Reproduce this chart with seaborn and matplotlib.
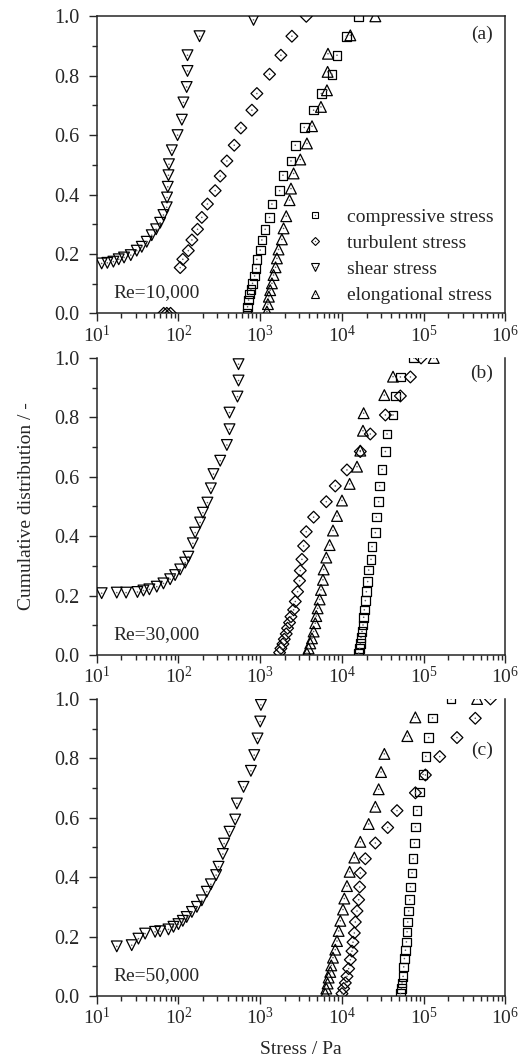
import matplotlib
matplotlib.use("Agg")
import matplotlib.pyplot as plt
import seaborn as sns
import pandas as pd
from matplotlib.lines import Line2D
from matplotlib.ticker import LogLocator, MultipleLocator, NullFormatter, FormatStrFormatter

# ---- data (stress in Pa, cumulative distribution) ----
# (a) Re=10,000
a_comp_x = [687, 700, 720, 740, 769, 805, 853, 893, 910, 1000, 1047, 1150, 1300, 1390, 1726,
            1897, 2377, 2685, 3460, 4500, 5585, 7550, 8690, 11300, 16000]
a_comp_y = [0.0, 0.022, 0.045, 0.065, 0.081, 0.101, 0.126, 0.151, 0.182, 0.213, 0.247, 0.283,
            0.323, 0.368, 0.413, 0.465, 0.513, 0.566, 0.626, 0.684, 0.740, 0.805, 0.869, 0.933, 1.0]
a_turb_x = [66, 72, 80, 105, 113, 132, 146, 171, 193, 226, 281, 324, 391, 481, 579, 791, 910,
            1300, 1790, 2440, 3660]
a_turb_y = [0.0, 0.0, 0.0, 0.154, 0.182, 0.211, 0.247, 0.283, 0.323, 0.368, 0.413, 0.462, 0.513,
            0.566, 0.624, 0.684, 0.740, 0.805, 0.869, 0.933, 1.0]
a_shear_x = [11.5, 13.5, 16.0, 18.6, 21.6, 26.1, 30.9, 35.6, 40.9, 47.1, 53.3, 59.7, 65.5, 71.9,
             72.5, 74.0, 75.5, 76.5, 83.0, 97.5, 110, 115, 126, 129, 129, 181, 828]
a_shear_y = [0.168, 0.170, 0.174, 0.182, 0.188, 0.196, 0.211, 0.224, 0.241, 0.263, 0.283, 0.305,
             0.331, 0.357, 0.390, 0.426, 0.465, 0.502, 0.549, 0.600, 0.652, 0.710, 0.762, 0.816,
             0.869, 0.933, 0.988]
a_elong_x = [1208, 1242, 1276, 1324, 1390, 1455, 1540, 1600, 1675, 1840, 1930, 2080, 2285, 2377,
             2560, 3090, 3725, 4300, 5530, 6550, 6670, 6740, 12650, 25600]
a_elong_y = [0.006, 0.031, 0.056, 0.078, 0.101, 0.129, 0.155, 0.185, 0.215, 0.249, 0.286, 0.327,
             0.381, 0.420, 0.471, 0.518, 0.572, 0.630, 0.695, 0.751, 0.813, 0.874, 0.936, 1.0]

# (b) Re=30,000
b_comp_x = [16000, 16450, 16750, 17080, 17580, 18080, 18420, 18760, 19300, 19870, 20620, 21220,
            22650, 23300, 25600, 26300, 28100, 28900, 30900, 33950, 35600, 42100, 45000, 51800,
            75500]
b_comp_y = [0.006, 0.022, 0.039, 0.059, 0.079, 0.101, 0.127, 0.152, 0.183, 0.213, 0.247, 0.286,
            0.322, 0.365, 0.412, 0.464, 0.516, 0.569, 0.625, 0.685, 0.744, 0.808, 0.872, 0.936, 1.0]
b_turb_x = [1726, 1790, 1897, 1970, 2080, 2160, 2285, 2377, 2560, 2685, 2865, 3030, 3090, 3236,
            3395, 3656, 4500, 6430, 8280, 11500, 16750, 22200, 33950, 51800, 68700, 92700]
b_turb_y = [0.008, 0.022, 0.037, 0.053, 0.071, 0.090, 0.109, 0.129, 0.152, 0.180, 0.213, 0.250,
            0.284, 0.322, 0.367, 0.415, 0.464, 0.516, 0.569, 0.623, 0.685, 0.744, 0.808, 0.872,
            0.936, 1.0]
b_shear_x = [11.5, 17.6, 22.9, 31.5, 37.3, 44.1, 54.3, 65.5, 79.1, 91.0, 105, 121, 132, 150, 160,
             184, 199, 226, 249, 268, 324, 391, 421, 421, 527, 543, 543]
b_shear_y = [0.208, 0.210, 0.210, 0.212, 0.217, 0.221, 0.230, 0.241, 0.255, 0.269, 0.288, 0.311,
             0.331, 0.376, 0.412, 0.446, 0.479, 0.513, 0.561, 0.609, 0.654, 0.707, 0.760, 0.816,
             0.870, 0.924, 0.979]
b_elong_x = [3725, 3907, 4095, 4295, 4500, 4710, 4850, 5035, 5330, 5535, 5850, 5970, 6430, 7060,
             7760, 8690, 10000, 12400, 15270, 16750, 18060, 18400, 32960, 42100, 132500]
b_elong_y = [0.006, 0.022, 0.039, 0.056, 0.079, 0.107, 0.131, 0.157, 0.187, 0.219, 0.253, 0.288,
             0.328, 0.370, 0.419, 0.468, 0.520, 0.576, 0.634, 0.688, 0.755, 0.814, 0.875, 0.937, 1.0]

# (c) Re=50,000
c_comp_x = [51800, 53300, 54300, 55900, 56900, 58000, 59700, 61400, 62600, 63700, 65500, 67400,
            68700, 71900, 74000, 76900, 79100, 82800, 89300, 98000, 106000, 115000, 128000,
            216300]
c_comp_y = [0.008, 0.025, 0.044, 0.066, 0.098, 0.126, 0.154, 0.182, 0.216, 0.249, 0.286, 0.324,
            0.367, 0.414, 0.462, 0.515, 0.569, 0.625, 0.687, 0.746, 0.807, 0.870, 0.936, 1.0]
c_turb_x = [10000, 10480, 10990, 11510, 12070, 12650, 13250, 13640, 14160, 14560, 15270, 16000,
            16450, 16760, 19300, 25600, 36230, 47100, 79070, 104800, 157000, 255000, 427000,
            654600]
c_turb_y = [0.008, 0.025, 0.044, 0.066, 0.092, 0.122, 0.151, 0.181, 0.212, 0.249, 0.286, 0.324,
            0.367, 0.414, 0.462, 0.515, 0.567, 0.624, 0.684, 0.744, 0.806, 0.870, 0.935, 1.0]
c_shear_x = [17.6, 26.8, 32.4, 39.1, 51.8, 59.7, 75.5, 86.9, 100, 113, 126, 146, 168, 193, 222,
             249, 289, 309, 349, 362, 421, 494, 518, 625, 769, 845, 927, 1000, 1019]
c_shear_y = [0.167, 0.171, 0.193, 0.210, 0.216, 0.218, 0.224, 0.233, 0.242, 0.253, 0.266, 0.283,
             0.300, 0.322, 0.351, 0.376, 0.407, 0.435, 0.478, 0.513, 0.553, 0.594, 0.648, 0.704,
             0.758, 0.811, 0.867, 0.924, 0.980]
c_elong_x = [6250, 6430, 6670, 6870, 7190, 7400, 7760, 8280, 8690, 9100, 9540, 10290, 10680,
             11510, 12410, 14160, 16760, 21220, 25600, 28100, 30050, 32990, 63000, 79000, 449800]
c_elong_y = [0.008, 0.025, 0.042, 0.062, 0.081, 0.103, 0.129, 0.156, 0.185, 0.219, 0.253, 0.291,
             0.328, 0.370, 0.418, 0.466, 0.519, 0.579, 0.637, 0.696, 0.754, 0.815, 0.875, 0.938, 1.0]

kinds = ["compressive stress", "turbulent stress", "shear stress", "elongational stress"]
panels = ["(a)", "(b)", "(c)"]
re_labels = ["Re=10,000", "Re=30,000", "Re=50,000"]

series = {
    "(a)": [(a_comp_x, a_comp_y), (a_turb_x, a_turb_y), (a_shear_x, a_shear_y), (a_elong_x, a_elong_y)],
    "(b)": [(b_comp_x, b_comp_y), (b_turb_x, b_turb_y), (b_shear_x, b_shear_y), (b_elong_x, b_elong_y)],
    "(c)": [(c_comp_x, c_comp_y), (c_turb_x, c_turb_y), (c_shear_x, c_shear_y), (c_elong_x, c_elong_y)],
}

rows = []
for p in panels:
    for kind, (xs, ys) in zip(kinds, series[p]):
        for xv, yv in zip(xs, ys):
            rows.append({"panel": p, "kind": kind, "stress": xv, "cum": yv})
df = pd.DataFrame(rows)

markers = {"compressive stress": "s", "turbulent stress": "D",
           "shear stress": "v", "elongational stress": "^"}
msize = {"compressive stress": 38, "turbulent stress": 36,
         "shear stress": 60, "elongational stress": 60}

sns.set_style("ticks")
plt.rcParams["font.family"] = ["Liberation Serif", "DejaVu Serif"]
plt.rcParams["mathtext.fontset"] = "custom"
plt.rcParams["mathtext.rm"] = "Liberation Serif"
plt.rcParams["mathtext.it"] = "Liberation Serif:italic"
plt.rcParams["mathtext.default"] = "regular"
FS = 14

fig = plt.figure(figsize=(5.27, 10.60), dpi=100)
left, width, height = 0.1835, 0.7757, 0.2802
bottoms = [0.7044, 0.3821, 0.0604]
label_y = [0.940, 0.949, 0.828]

for i, p in enumerate(panels):
    ax = fig.add_axes([left, bottoms[i], width, height])
    ax.set_xscale("log")
    sub = df[df.panel == p]
    for kind in kinds:
        d = sub[sub.kind == kind]
        sns.scatterplot(data=d, x="stress", y="cum", marker=markers[kind], s=msize[kind],
                        facecolor="none", edgecolor="black", linewidth=0.9,
                        ax=ax, legend=False, zorder=3)
        sns.scatterplot(data=d, x="stress", y="cum", marker="o", s=1.3, color="0.35",
                        edgecolor="none", linewidth=0, ax=ax, legend=False, zorder=4)
    ax.set_xlim(10, 1e6)
    ax.set_ylim(0, 1.0)
    ax.xaxis.set_major_locator(LogLocator(base=10, numticks=10))
    ax.xaxis.set_minor_locator(LogLocator(base=10, subs=range(2, 10), numticks=100))
    ax.xaxis.set_minor_formatter(NullFormatter())
    ax.yaxis.set_major_locator(MultipleLocator(0.2))
    ax.yaxis.set_minor_locator(MultipleLocator(0.1))
    ax.yaxis.set_major_formatter(FormatStrFormatter("%.1f"))
    ax.tick_params(which="major", direction="out", length=6, width=1.0, labelsize=FS, pad=2,
                   top=False, right=False)
    ax.tick_params(axis="y", which="major", pad=6.5, labelsize=14.5)
    ax.tick_params(which="minor", direction="out", length=3.5, width=1.0, top=False, right=False)
    for sp in ax.spines.values():
        sp.set_linewidth(1.1)
    if i > 0:
        ax.spines["top"].set_visible(False)
    ax.set_xlabel("")
    ax.set_ylabel("")
    ax.text(0.969, label_y[i], p, transform=ax.transAxes, ha="right", va="center", fontsize=FS)
    ax.text(0.040, 0.07, re_labels[i], transform=ax.transAxes, ha="left", va="center", fontsize=FS)

    if i == 0:
        handles = []
        for kind in kinds:
            h1 = Line2D([], [], marker=markers[kind], ls="", mfc="none", mec="black", mew=0.8,
                        ms={"s": 4.8, "D": 4.2, "v": 5.8, "^": 5.8}[markers[kind]])
            h2 = Line2D([], [], marker="o", ls="", ms=1.0, color="0.35", mec="none")
            handles.append((h1, h2))
        ax.legend(handles, kinds, loc="lower right", bbox_to_anchor=(0.970, 0.03),
                  frameon=False, fontsize=FS, handlelength=1.0, handletextpad=1.1,
                  labelspacing=0.44, borderpad=0, borderaxespad=0)

fig.text(27 / 527, 1 - 506 / 1060, "Cumulative distribution / -", rotation=90,
         ha="center", va="center", fontsize=FS)
fig.text(301 / 527, 1 - 1050 / 1060, "Stress / Pa", ha="center", va="center", fontsize=FS)

fig.savefig("out.png", dpi=100)
